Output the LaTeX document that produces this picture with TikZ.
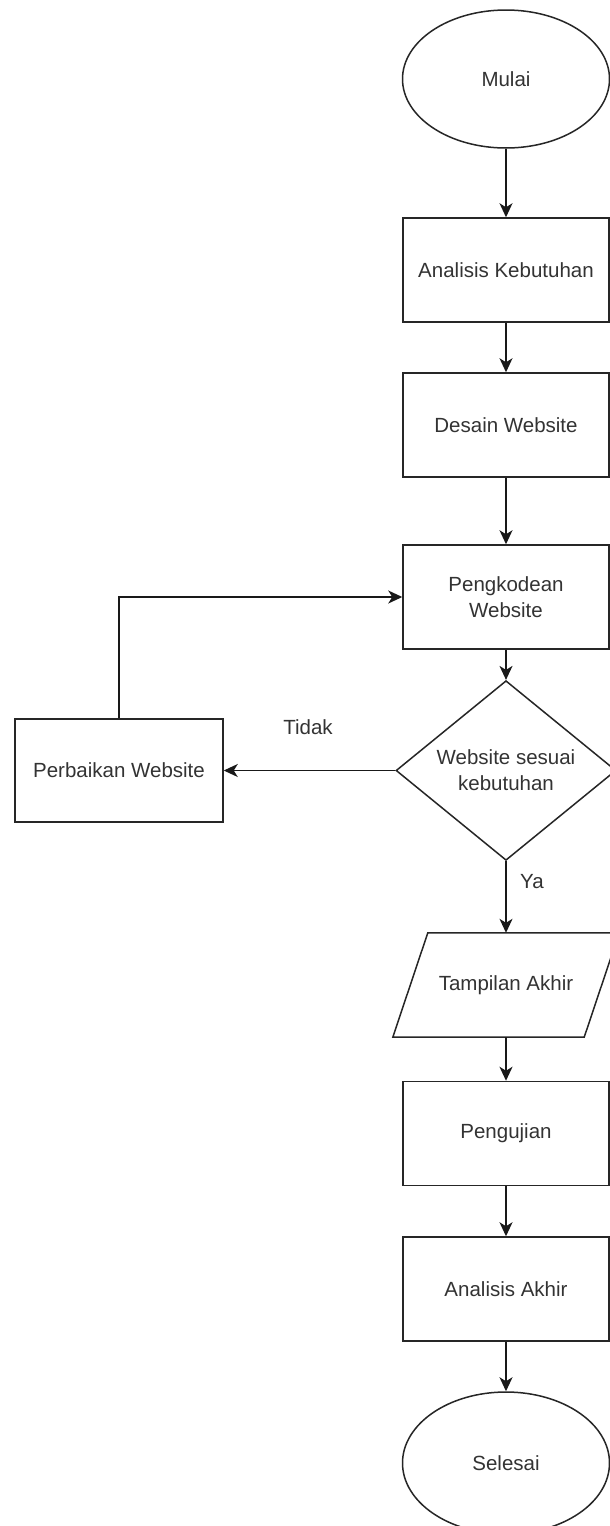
\documentclass[tikz,border=0pt]{standalone}
\usepackage{fontspec}
\setmainfont{Liberation Sans}
\usetikzlibrary{shapes.geometric,arrows.meta}

\begin{document}
\begin{tikzpicture}[x=1pt,y=-1pt,
  every node/.style={font=\fontsize{20.5}{26}\selectfont, text=black!80},
  flow/.style={line width=1.5pt, draw=black!85},
  procbox/.style={flow, rectangle, minimum width=206pt, minimum height=104pt, align=center, inner sep=0pt},
  terminal/.style={flow, ellipse, minimum width=207pt, minimum height=138pt, inner sep=0pt},
  decision/.style={flow, diamond, minimum width=220pt, minimum height=135pt, inner sep=0pt, align=center},
  iobox/.style={rectangle, minimum width=226pt, minimum height=104pt, inner sep=0pt},
  link/.style={line width=1.5pt, draw=black!90, -{Stealth[length=14pt,width=13pt,inset=4pt]}}
]
  % page area
  \fill[white] (0,0) rectangle (610,1526);
  \useasboundingbox (0,0) rectangle (610,1526);

  % main column
  \node[terminal] (mulai) at (506,79) {Mulai};
  \node[procbox] (kebutuhan) at (506,270) {Analisis Kebutuhan};
  \node[procbox] (desain) at (506,425) {Desain Website};
  \node[procbox] (kode) at (506,597) {Pengkodean\\Website};
  \node[decision] (cek) at (506,770.5) {Website sesuai\\kebutuhan};
  \node[iobox] (tampil) at (506,985) {Tampilan Akhir};
  \draw[flow] ([xshift=35pt]tampil.north west) -- (tampil.north east)
              -- ([xshift=-35pt]tampil.south east) -- (tampil.south west) -- cycle;
  \node[procbox] (uji) at (506,1133.5) {Pengujian};
  \node[procbox] (akhir) at (506,1289) {Analisis Akhir};
  \node[terminal, minimum height=142pt] (selesai) at (506,1463) {Selesai};

  % repair branch
  \node[procbox, minimum width=208pt, minimum height=103pt] (perbaikan) at (119,770.5) {Perbaikan Website};

  % connectors
  \draw[link] (mulai) -- (kebutuhan);
  \draw[link] (kebutuhan) -- (desain);
  \draw[link] (desain) -- (kode);
  \draw[link] (kode) -- (cek);
  \draw[link] (cek.south) -- (tampil.north);
  \draw[link] (tampil) -- (uji);
  \draw[link] (uji) -- (akhir);
  \draw[link] (akhir) -- (selesai);
  \draw[link] (cek.west) -- (perbaikan.east);
  \draw[link] (perbaikan.north) |- (kode.west);

  % branch labels
  \node (tidak) at (308,727) {Tidak};
  \node (ya) at (532,882) {Ya};
\end{tikzpicture}
\end{document}
